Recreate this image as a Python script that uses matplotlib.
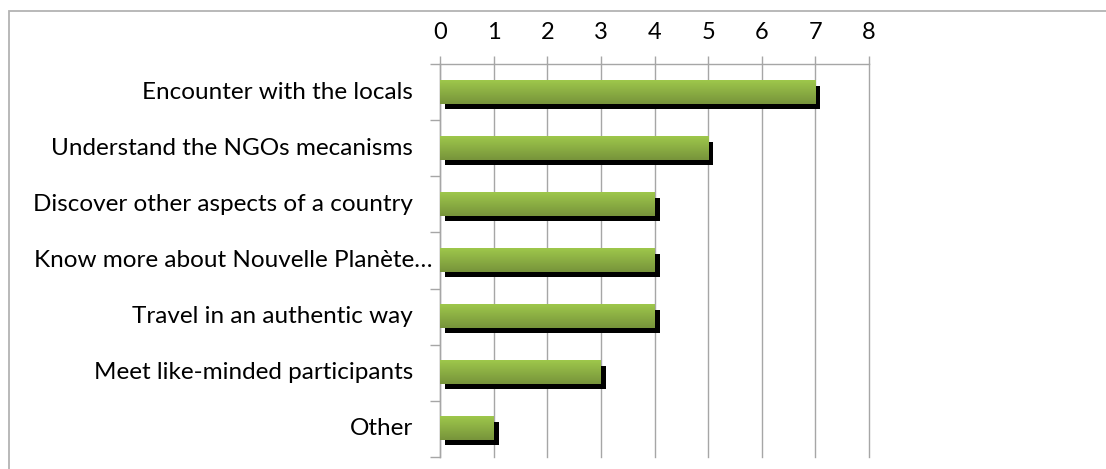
import numpy as np
import matplotlib
matplotlib.use("Agg")
import matplotlib.pyplot as plt
from matplotlib import transforms
from matplotlib.colors import LinearSegmentedColormap
from matplotlib.patches import Rectangle

categories = [
    "Encounter with the locals",
    "Understand the NGOs mecanisms",
    "Discover other aspects of a country",
    "Know more about Nouvelle Planète…",
    "Travel in an authentic way",
    "Meet like-minded participants",
    "Other",
]
counts = [7, 5, 4, 4, 4, 3, 1]
xticks = list(range(0, 9))

plt.rcParams["font.family"] = ["Lato", "DejaVu Sans"]

W, H = 1106, 469
fig = plt.figure(figsize=(W / 100, H / 100), dpi=100)

# chart frame (clipped on the right and bottom)
fig.patches.append(Rectangle((9 / W, -0.1), 1.2, 1 - 11 / H + 0.1,
                             transform=fig.transFigure, fill=False,
                             edgecolor="#b3b3b3", linewidth=1.3))

ax = fig.add_axes([440 / W, 1 - 457 / H, (869 - 440) / W, (457 - 64) / H])
n = len(categories)

grey = "#a6a6a6"
for v in xticks:
    ax.axvline(v, color=grey, linewidth=1.0, zorder=0, clip_on=False)

ax.spines["bottom"].set_visible(False)
ax.spines["right"].set_visible(False)
for s in ("top", "left"):
    ax.spines[s].set_color(grey)
    ax.spines[s].set_linewidth(1.0)

ax.xaxis.tick_top()
ax.set_xticks(xticks)
ax.set_xticklabels([str(v) for v in xticks])
ax.tick_params(axis="x", length=6, width=1.0, color=grey, pad=9,
               labelsize=17)
ax.set_yticks(np.arange(n + 1))
ax.set_yticklabels([])
ax.tick_params(axis="y", length=7, width=1.0, color=grey)

# bars: black drop shadow, then green gradient on top
bar_h = 0.41
shadow = transforms.offset_copy(ax.transData, fig=fig, x=5, y=-5, units="dots")
green = LinearSegmentedColormap.from_list("g", ["#9ec74b", "#77943b"])
grad = np.linspace(0, 1, 64).reshape(-1, 1)
for i, v in enumerate(counts):
    ax.add_patch(Rectangle((0, i + 0.5 - bar_h / 2), v, bar_h,
                           facecolor="black", edgecolor="none",
                           transform=shadow, zorder=2))
    ax.imshow(grad, cmap=green, aspect="auto", zorder=3,
              extent=(0, v, i + 0.5 + bar_h / 2, i + 0.5 - bar_h / 2),
              origin="upper")
ax.set_xlim(0, 8)
ax.set_ylim(n, 0)

# category labels
for i, lab in enumerate(categories):
    off = -8 if lab.endswith("…") else -27
    tr = transforms.offset_copy(ax.get_yaxis_transform(), fig=fig,
                                x=off, y=0, units="dots")
    ax.text(0, i + 0.5, lab, transform=tr, ha="right", va="center",
            fontsize=17.5, color="black")

fig.savefig("out.png", dpi=100)
